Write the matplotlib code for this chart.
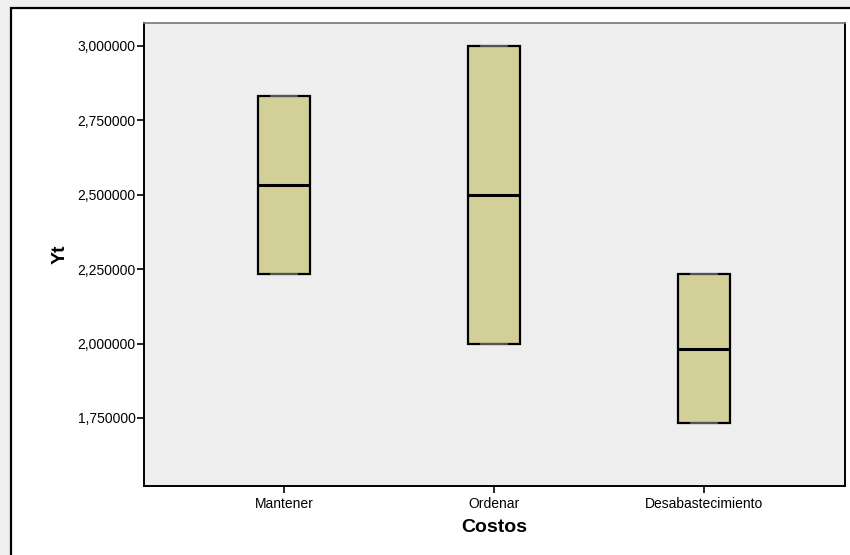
import matplotlib
matplotlib.use('Agg')
import matplotlib.pyplot as plt
from matplotlib.patches import Rectangle
from matplotlib.ticker import FuncFormatter

# box summary per cost category
categorias = ['Mantener', 'Ordenar', 'Desabastecimiento']
q1 = [2.233333, 2.000000, 1.733333]
mediana = [2.533333, 2.500000, 1.983333]
q3 = [2.833333, 3.000000, 2.233333]
minimo = [2.233333, 2.000000, 1.733333]
maximo = [2.833333, 3.000000, 2.233333]

y_ticks = [1.75, 2.0, 2.25, 2.5, 2.75, 3.0]

plt.rcParams['font.family'] = ['Liberation Sans', 'DejaVu Sans']

fig = plt.figure(figsize=(8.5, 5.55), dpi=100)
fig.patch.set_facecolor('white')

# light grey margin and outer frame
W, H = 850.0, 555.0
fig.patches.append(Rectangle((0, 0), 1, 1, transform=fig.transFigure,
                             facecolor='#f0f0f0', edgecolor='none', zorder=-3))
fig.patches.append(Rectangle((11 / W, -0.1), 1.2, (H - 8) / H + 0.1,
                             transform=fig.transFigure, facecolor='white',
                             edgecolor='black', linewidth=1.6, zorder=-2))

ax = fig.add_axes([144 / W, 1 - 486 / H, (845 - 144) / W, (486 - 23) / H])
ax.set_facecolor('#eeeeee')

stats = []
for i, nombre in enumerate(categorias):
    stats.append({'label': nombre, 'q1': q1[i], 'med': mediana[i], 'q3': q3[i],
                  'whislo': minimo[i], 'whishi': maximo[i], 'fliers': []})

ax.bxp(stats, positions=range(len(categorias)), widths=0.25, patch_artist=True,
       showfliers=False,
       boxprops=dict(facecolor='#d3cf98', edgecolor='black', linewidth=1.6),
       medianprops=dict(color='black', linewidth=2.2),
       whiskerprops=dict(color='#555555', linewidth=1.0),
       capprops=dict(color='#666666', linewidth=1.2),
       capwidths=0.12)

ax.set_xlim(-0.667, 2.671)
ax.set_ylim(1.5215, 3.077)
ax.set_yticks(y_ticks)
ax.yaxis.set_major_formatter(FuncFormatter(lambda v, p: f'{v:.6f}'.replace('.', ',')))
ax.set_xticks(range(len(categorias)))
ax.set_xticklabels(categorias)

ax.tick_params(axis='both', direction='out', length=5, width=1.2, labelsize=10,
               color='black', pad=1)
ax.tick_params(axis='x', pad=3)

for lado in ['left', 'bottom', 'right']:
    ax.spines[lado].set_color('black')
    ax.spines[lado].set_linewidth(1.4)
ax.spines['top'].set_color('#777777')
ax.spines['top'].set_linewidth(1.2)

ax.set_ylabel('Yt', fontsize=14, fontweight='bold', labelpad=6)
ax.set_xlabel('Costos', fontsize=14, fontweight='bold', labelpad=6)

fig.savefig('out.png', dpi=100)
